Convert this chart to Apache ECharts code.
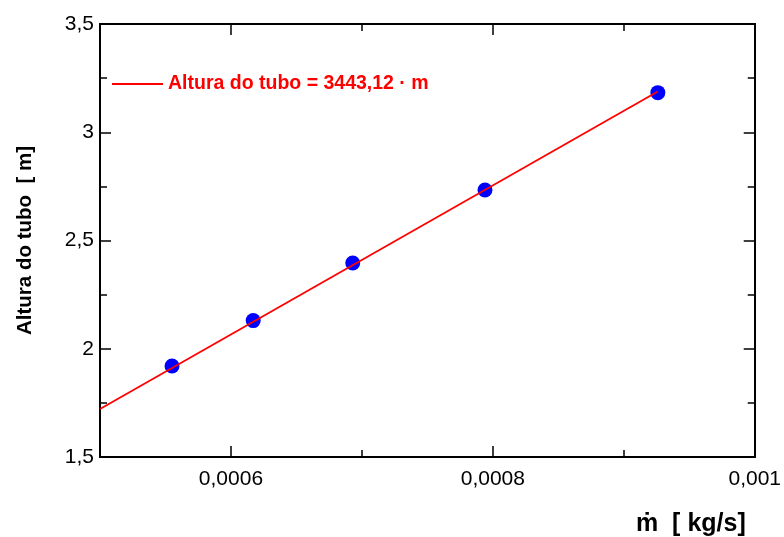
<!DOCTYPE html>
<html>
<head>
<meta charset="utf-8">
<script src="https://cdn.jsdelivr.net/npm/echarts@6/dist/echarts.min.js"></script>
<style>
  html, body { margin: 0; padding: 0; background: #fff; }
  #chart { width: 784px; height: 537px; }
</style>
</head>
<body>
<div id="chart"></div>
<script>
// Measured mass flow rate [kg/s] and tube height [m]
const massFlow = [0.000555, 0.000617, 0.000693, 0.000794, 0.000926];
const tubeHeight = [1.920, 2.130, 2.396, 2.733, 3.183];

// Linear fit through the origin: height = slope * mass flow
const fitSlope = 3443.12;
const fitRange = [0.0005, 0.000926];
const fitName = 'Altura do tubo = 3443,12 · m';

// Axis ranges and tick positions
const xRange = [0.0005, 0.001];
const yRange = [1.5, 3.5];
const xMajorTicks = [0.0006, 0.0008, 0.001];
const xMinorTicks = [0.0007, 0.0009];
const yMajorTicks = [1.5, 2, 2.5, 3, 3.5];
const yMinorTicks = [1.75, 2.25, 2.75, 3.25];

const xTitle = 'ṁ  [ kg/s]';
const yTitle = 'Altura do tubo  [ m]';

const FONT = '"Liberation Sans", Arial, Helvetica, sans-serif';
const decimalComma = v => String(v).replace('.', ',');

const fitLine = fitRange.map(x => [x, fitSlope * x]);
const points = massFlow.map((x, i) => [x, tubeHeight[i]]);

function axis(kind, position, ticks, len, withLabels, extra) {
  const range = kind === 'x' ? xRange : yRange;
  return Object.assign({
    type: 'value',
    position: position,
    min: range[0],
    max: range[1],
    splitLine: { show: false },
    axisLine: { show: true, onZero: false, lineStyle: { color: '#000', width: 2 } },
    axisTick: {
      show: true, inside: true, length: len,
      customValues: ticks,
      lineStyle: { color: '#000', width: 1.5 }
    },
    axisLabel: withLabels ? {
      show: true,
      customValues: ticks,
      formatter: decimalComma,
      color: '#000',
      fontFamily: FONT,
      fontSize: 21,
      margin: kind === 'x' ? 12 : 6,
      showMinLabel: true,
      showMaxLabel: true
    } : { show: false }
  }, extra || {});
}

const chart = echarts.init(document.getElementById('chart'), null, { renderer: 'canvas' });

chart.setOption({
  animation: false,
  backgroundColor: '#ffffff',
  grid: { left: 100, right: 27, top: 24, bottom: 80, containLabel: false },
  xAxis: [
    axis('x', 'bottom', xMajorTicks, 11, true),
    axis('x', 'bottom', xMinorTicks, 7, false),
    axis('x', 'top', xMajorTicks, 11, false),
    axis('x', 'top', xMinorTicks, 7, false)
  ],
  yAxis: [
    axis('y', 'left', yMajorTicks.filter(v => v !== 1.5 && v !== 3.5), 11, false),
    axis('y', 'left', yMinorTicks, 7, false),
    axis('y', 'right', yMajorTicks.filter(v => v !== 1.5 && v !== 3.5), 11, false),
    axis('y', 'right', yMinorTicks, 7, false),
    axis('y', 'left', yMajorTicks, 0, true, {
      axisTick: { show: false },
      name: yTitle,
      nameLocation: 'middle',
      nameRotate: 90,
      nameGap: 64,
      nameTextStyle: { fontFamily: FONT, fontSize: 20.5, fontWeight: 'bold', color: '#000' }
    })
  ],
  legend: {
    show: true,
    left: 112,
    top: 74,
    padding: 0,
    itemWidth: 51,
    itemHeight: 2,
    icon: 'rect',
    data: [{ name: fitName, icon: 'rect' }],
    textStyle: { fontFamily: FONT, fontSize: 19.5, fontWeight: 'bold', color: '#ff0000' }
  },
  graphic: [{
    type: 'text',
    left: 636,
    top: 512,
    style: {
      text: xTitle,
      fontFamily: FONT,
      fontSize: 25,
      fontWeight: 'bold',
      fill: '#000'
    }
  }],
  series: [
    {
      type: 'scatter',
      name: 'dados',
      xAxisIndex: 0,
      yAxisIndex: 0,
      data: points,
      symbol: 'circle',
      symbolSize: 15,
      itemStyle: { color: '#0000ff', opacity: 1 },
      z: 2
    },
    {
      type: 'line',
      name: fitName,
      xAxisIndex: 0,
      yAxisIndex: 0,
      data: fitLine,
      showSymbol: false,
      symbol: 'none',
      lineStyle: { color: '#ff0000', width: 1.8 },
      itemStyle: { color: '#ff0000' },
      z: 3
    }
  ]
});
</script>
</body>
</html>
